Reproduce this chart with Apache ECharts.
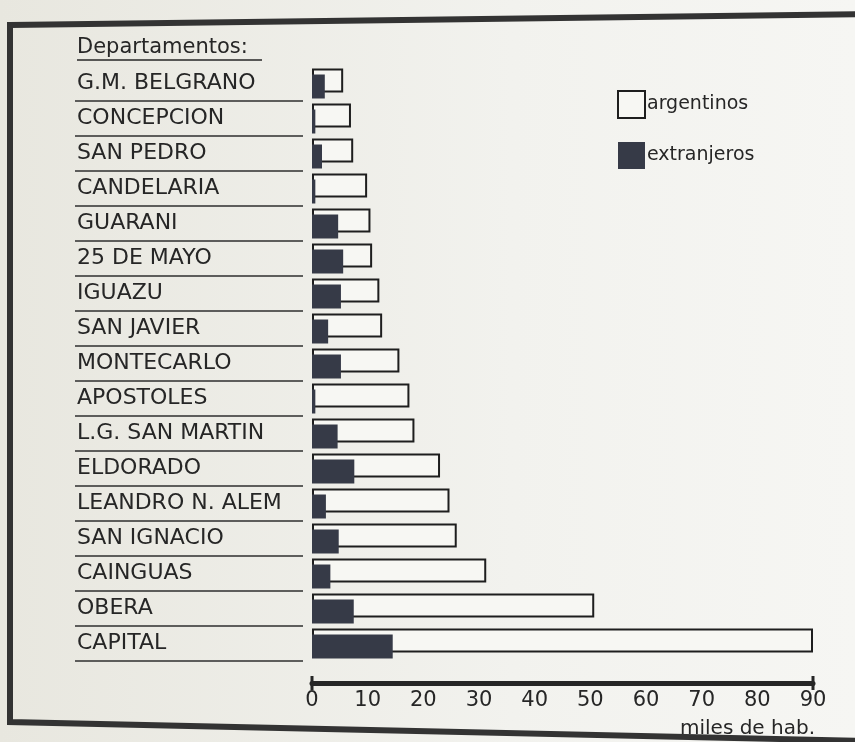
<!DOCTYPE html>
<html>
<head>
<meta charset="utf-8">
<script src="https://cdn.jsdelivr.net/npm/echarts@6/dist/echarts.min.js"></script>
<style>
  html, body { margin: 0; padding: 0; }
  #chart { width: 855px; height: 742px; }
</style>
</head>
<body>
<div id="chart"></div>
<script>
const departamentos = [
  'G.M. BELGRANO', 'CONCEPCION', 'SAN PEDRO', 'CANDELARIA', 'GUARANI',
  '25 DE MAYO', 'IGUAZU', 'SAN JAVIER', 'MONTECARLO', 'APOSTOLES',
  'L.G. SAN MARTIN', 'ELDORADO', 'LEANDRO N. ALEM', 'SAN IGNACIO',
  'CAINGUAS', 'OBERA', 'CAPITAL',
];
// miles de habitantes
const argentinos = [5.6, 7.0, 7.4, 9.9, 10.5, 10.8, 12.1, 12.6, 15.7, 17.5, 18.4, 23.0, 24.7, 26.0, 31.3, 50.7, 90.0];
const extranjeros = [2.3, 0.6, 1.8, 0.6, 4.7, 5.6, 5.2, 2.9, 5.2, 0.6, 4.6, 7.6, 2.5, 4.8, 3.3, 7.5, 14.5];
const xTicks = { min: 0, max: 90, interval: 10 };

const ink = '#262626';
const dark = '#363a47';

const chart = echarts.init(document.getElementById('chart'));

chart.setOption({
  animation: false,
  backgroundColor: {
    type: 'linear', x: 0, y: 0, x2: 1, y2: 0,
    colorStops: [
      { offset: 0, color: '#e8e7df' },
      { offset: 0.6, color: '#f2f2ee' },
      { offset: 1, color: '#f6f6f3' },
    ],
  },
  textStyle: { fontFamily: 'DejaVu Sans', color: ink },
  graphic: [
    {
      type: 'polygon',
      shape: { points: [[10, 25], [870, 14], [870, 741], [10, 722]] },
      style: { fill: 'none', stroke: '#333', lineWidth: 6 },
      silent: true,
    },
    {
      type: 'text',
      left: 77,
      top: 37,
      style: { text: 'Departamentos:', font: '21px "DejaVu Sans"', fill: ink },
    },
    {
      type: 'line',
      shape: { x1: 77, y1: 60, x2: 262, y2: 60 },
      style: { stroke: ink, lineWidth: 1.5 },
    },
    {
      type: 'text',
      left: 680,
      top: 719,
      style: { text: 'miles de hab.', font: '20px "DejaVu Sans"', fill: ink },
    },
  ],
  legend: {
    orient: 'vertical',
    left: 612,
    top: 85,
    itemWidth: 27,
    itemHeight: 27,
    itemGap: 23,
    icon: 'rect',
    textStyle: { fontSize: 19, color: ink, padding: [0, 0, 0, -3] },
    data: ['argentinos', 'extranjeros'],
  },
  grid: [
    { left: 312, right: 42, top: 66, bottom: 81 },
    { left: 75, width: 228, top: 66, bottom: 81 },
  ],
  xAxis: [
    {
      type: 'value',
      gridIndex: 0,
      ...xTicks,
      offset: 22,
      axisLine: {
        show: true,
        lineStyle: { color: ink, width: 5 },
        symbol: ['rect', 'rect'],
        symbolSize: [14, 3],
      },
      axisTick: { show: false },
      splitLine: { show: false },
      axisLabel: { fontSize: 21, color: ink, margin: 7 },
    },
    { type: 'value', gridIndex: 1, show: false },
  ],
  yAxis: [
    {
      type: 'category',
      gridIndex: 0,
      inverse: true,
      data: departamentos,
      axisLine: { show: false },
      axisTick: { show: false },
      axisLabel: { show: false },
    },
    {
      type: 'category',
      gridIndex: 1,
      inverse: true,
      data: departamentos,
      axisLine: { show: false },
      axisTick: { show: false },
      axisLabel: { inside: true, margin: 2, fontSize: 22, color: ink },
      splitLine: {
        show: true,
        interval: (i) => i !== 0,
        lineStyle: { color: '#2e2e2e', width: 1.6 },
      },
    },
  ],
  series: [
    {
      name: 'argentinos',
      type: 'bar',
      xAxisIndex: 0,
      yAxisIndex: 0,
      data: argentinos,
      barWidth: 24,
      barGap: '-75%',
      itemStyle: { color: '#f7f7f3', borderColor: '#1e1e1e', borderWidth: 2 },
    },
    {
      name: 'extranjeros',
      type: 'bar',
      xAxisIndex: 0,
      yAxisIndex: 0,
      data: extranjeros,
      barWidth: 24,
      itemStyle: { color: dark },
    },
  ],
});
</script>
</body>
</html>
